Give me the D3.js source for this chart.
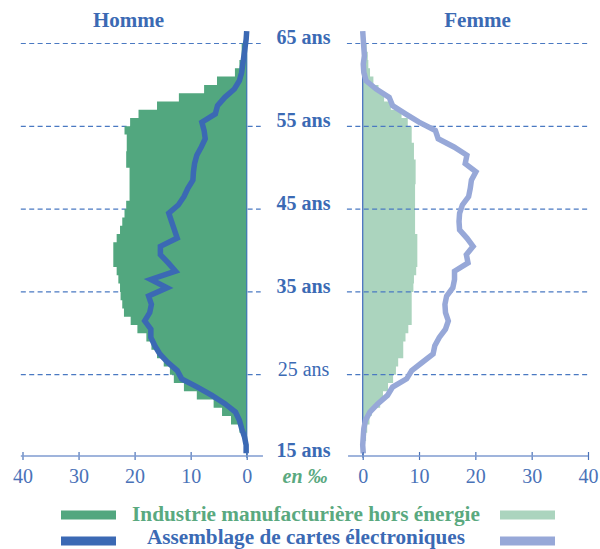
<!DOCTYPE html>
<html>
<head>
<meta charset="utf-8">
<script src="https://cdn.jsdelivr.net/npm/d3@7"></script>
<style>
  body { margin: 0; background: #fff; }
  svg { display: block; font-family: "Liberation Serif", "Times New Roman", serif; }
</style>
</head>
<body>
<div id="chart"></div>
<script>
// ages (one value per year of age, 15 -> 66)
const ages = [15,16,17,18,19,20,21,22,23,24,25,26,27,28,29,30,31,32,33,34,35,36,37,38,39,40,
              41,42,43,44,45,46,47,48,49,50,51,52,53,54,55,56,57,58,59,60,61,62,63,64,65,66];

// Homme - Industrie manufacturiere hors energie (bars, per mille)
const hommeIndustrie = [0.1,0.2,0.6,1.3,2.8,4.4,5.9,8.9,11.2,13.0,13.7,14.8,16.0,17.0,17.9,19.5,20.7,21.9,22.2,22.5,
                        22.6,22.9,23.2,23.8,23.8,23.8,23.2,22.6,22.2,21.8,21.5,20.9,20.9,20.9,20.9,21.5,21.5,21.4,21.4,21.8,
                        20.8,19.3,16.0,12.1,7.6,5.3,2.1,1.3,0.9,0.9,0,0];
// Homme - Assemblage de cartes electroniques (line)
const hommeCartes = [0.1,0.1,0.4,0.9,1.3,2.0,3.9,6.2,8.8,11.6,12.4,14.1,15.5,16.4,17.1,17.1,18.2,17.3,17.0,17.5,
                     14.2,17.1,12.7,14.0,15.4,15.4,12.4,12.9,13.4,13.9,12.2,11.2,10.5,9.6,9.5,9.3,8.9,8.1,7.4,7.6,
                     8.0,5.6,5.2,3.9,2.2,1.3,0.9,0.7,0.5,0.3,0.1,0.0];
// Femme - Industrie manufacturiere hors energie (bars)
const femmeIndustrie = [0.1,0.3,0.6,0.8,1.2,1.6,3.1,3.6,4.5,5.4,5.9,6.3,7.2,7.2,7.6,8.1,8.7,8.7,8.7,8.7,
                        9.0,9.1,9.5,9.7,9.7,9.7,9.7,9.3,9.3,9.3,9.3,9.3,9.3,9.4,9.4,9.4,9.1,9.1,8.7,8.7,
                        8.0,6.9,5.0,3.8,2.8,1.9,1.3,1.0,0.9,0.7,0,0];
// Femme - Assemblage de cartes electroniques (line)
const femmeCartes = [0.1,0.0,0.1,0.2,0.5,1.3,2.7,4.4,5.3,7.8,8.7,10.6,12.5,12.8,13.6,14.7,15.2,14.7,14.6,14.9,
                     16.0,16.3,16.3,18.7,18.4,19.6,18.5,17.2,17.1,17.2,17.7,18.8,19.1,19.3,20.1,18.2,18.5,16.2,13.4,12.9,
                     10.0,7.6,5.3,4.7,2.4,0.6,0.2,0.1,0.3,0.2,0.1,0.0];

const xTicks = [0,10,20,30,40];
const ageLabels = [15,25,35,45,55,65];

const colDarkGreen = '#52a77f', colLightGreen = '#abd4be';
const colDarkBlue = '#3b69b4', colLightBlue = '#97a8d8';
const colText = '#3b6ab4', colTick = '#4a72b8', colAxis = '#7f9bd0', colGrid = '#4a79c2';

const w = 600, h = 549;

const xL = d3.scaleLinear().domain([0, 40]).range([246.7, 22.5]);
const xR = d3.scaleLinear().domain([0, 40]).range([362.7, 588]);
const y = d3.scaleLinear().domain([15, 65]).range([457.5, 43.5]);

const svg = d3.select('#chart').append('svg')
    .attr('width', w)
    .attr('height', h);

const rows = (vals) => ages.map((a, i) => ({a: a, v: vals[i]}));

// stepped profile: each age band spans [a, a+1]
const stepPoints = (vals) => {
    let pts = [];
    ages.forEach((a, i) => { pts.push([vals[i], a]); pts.push([vals[i], a + 1]); });
    return pts;
}

const drawGrid = (x, from, to) => {
    svg.append('g').selectAll('line')
        .data(ageLabels.filter(a => a > 15))
        .enter().append('line')
        .attr('x1', x(from)).attr('x2', x(to))
        .attr('y1', d => y(d)).attr('y2', d => y(d))
        .attr('stroke', colGrid)
        .attr('stroke-width', 1.2)
        .attr('stroke-dasharray', '5,3.4');
}

const drawBars = (x, vals, color) => {
    const area = d3.area()
        .y(d => y(d[1]))
        .x0(x(0))
        .x1(d => x(d[0]));
    svg.append('path')
        .attr('d', area(stepPoints(vals)))
        .attr('fill', color);
}

const drawZero = (x, color) => {
    svg.append('line')
        .attr('x1', x(0)).attr('x2', x(0))
        .attr('y1', y(66.4)).attr('y2', y(15))
        .attr('stroke', color)
        .attr('stroke-width', 1.3);
}

const drawLine = (x, vals, color) => {
    const line = d3.line()
        .x(d => x(d.v))
        .y(d => y(d.a + 0.5));
    svg.append('path')
        .attr('d', line(rows(vals)))
        .attr('fill', 'none')
        .attr('stroke', color)
        .attr('stroke-width', 5.5)
        .attr('stroke-linejoin', 'miter');
}

const drawAxis = (x, from, to) => {
    const g = svg.append('g')
        .attr('transform', 'translate(0,456)')
        .call(d3.axisBottom(x).tickValues(xTicks).tickSizeInner(4).tickSizeOuter(0));
    g.select('.domain').remove();
    g.append('line')
        .attr('x1', x(from)).attr('x2', x(to))
        .attr('stroke', colAxis).attr('stroke-width', 1.6);
    g.selectAll('.tick line')
        .attr('y1', -4).attr('y2', 4)
        .attr('stroke', colTick).attr('stroke-width', 1.2);
    g.selectAll('.tick text')
        .attr('y', 27).attr('dy', 0)
        .attr('fill', colTick)
        .attr('font-family', '"Liberation Serif", serif')
        .attr('font-size', 20);
}

// left panel (Homme): grid below the bars
drawGrid(xL, 40.3, -2.5);
drawBars(xL, hommeIndustrie, colDarkGreen);
drawZero(xL, '#3f7ab0');
drawLine(xL, hommeCartes, colDarkBlue);
drawAxis(xL, 40.3, -2.9);

// right panel (Femme): grid above the bars
drawBars(xR, femmeIndustrie, colLightGreen);
drawZero(xR, '#4a72c0');
drawGrid(xR, -2.8, 40);
drawLine(xR, femmeCartes, colLightBlue);
drawAxis(xR, -2.6, 40);

// titles
svg.append('text').attr('x', 128.5).attr('y', 26.5).attr('text-anchor', 'middle')
    .attr('font-size', 21).attr('font-weight', 'bold').attr('fill', colText).text('Homme');
svg.append('text').attr('x', 477.5).attr('y', 26.5).attr('text-anchor', 'middle')
    .attr('font-size', 21).attr('font-weight', 'bold').attr('fill', colText).text('Femme');

// age labels in the middle
svg.append('g').selectAll('text')
    .data(ageLabels)
    .enter().append('text')
    .attr('x', 303.5)
    .attr('y', d => y(d) + (d === 15 ? -0.5 : 0.8))
    .attr('text-anchor', 'middle')
    .attr('font-size', 20)
    .attr('font-weight', d => d === 25 ? 'normal' : 'bold')
    .attr('fill', colText)
    .text(d => d + ' ans');

svg.append('text').attr('x', 305).attr('y', 483).attr('text-anchor', 'middle')
    .attr('font-size', 20).attr('font-weight', 'bold').attr('font-style', 'italic')
    .attr('fill', '#5aa97f').text('en ‰');

// legend
const legend = [
    {label: 'Industrie manufacturière hors énergie', left: colDarkGreen, right: colLightGreen, text: '#5aa97f', y: 510.5, base: 521, len: 348},
    {label: 'Assemblage de cartes électroniques', left: colDarkBlue, right: colLightBlue, text: colText, y: 536.5, base: 544.2, len: 318}
];
legend.forEach(l => {
    svg.append('rect').attr('x', 61).attr('y', l.y).attr('width', 55).attr('height', 9).attr('fill', l.left);
    svg.append('rect').attr('x', 500).attr('y', l.y).attr('width', 55).attr('height', 9).attr('fill', l.right);
    svg.append('text').attr('x', 306).attr('y', l.base)
        .attr('text-anchor', 'middle').attr('font-size', 20.5).attr('font-weight', 'bold')
        .attr('textLength', l.len).attr('lengthAdjust', 'spacingAndGlyphs')
        .attr('fill', l.text).text(l.label);
});
</script>
</body>
</html>
